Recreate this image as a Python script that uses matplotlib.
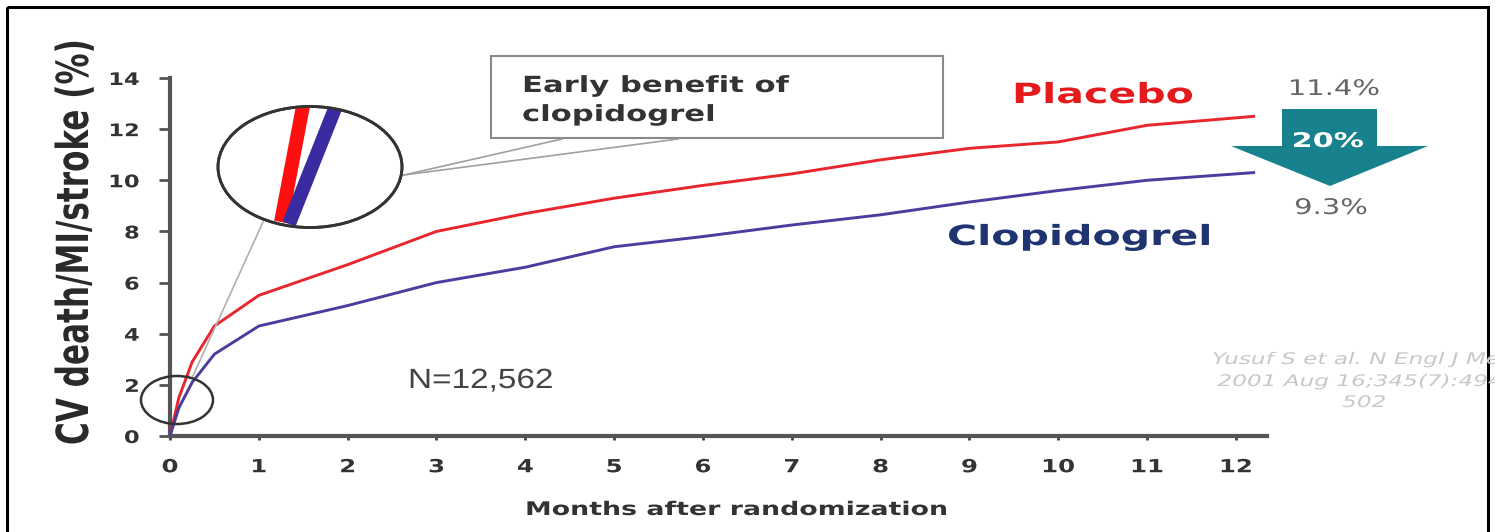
import matplotlib
matplotlib.use("Agg")
import matplotlib.pyplot as plt
from matplotlib.patches import Ellipse, Rectangle, Polygon
from matplotlib.patheffects import AbstractPathEffect
from matplotlib.transforms import Affine2D

# Cumulative incidence of CV death / MI / stroke (%) by month
months = [0, 0.1, 0.25, 0.5, 1, 2, 3, 4, 5, 6, 7, 8, 9, 10, 11, 12.2]
placebo = [0, 1.5, 2.9, 4.3, 5.5, 6.7, 8.0, 8.7, 9.3, 9.8, 10.25, 10.8, 11.25, 11.5, 12.15, 12.5]
clopidogrel = [0, 1.1, 2.1, 3.2, 4.3, 5.1, 6.0, 6.6, 7.4, 7.8, 8.25, 8.65, 9.15, 9.6, 10.0, 10.3]

x_ticks = list(range(0, 13))
x_tick_labels = [str(m) for m in x_ticks]
y_ticks = list(range(0, 15, 2))
y_tick_labels = [str(v) for v in y_ticks]


class Stretch(AbstractPathEffect):
    """Draw text glyphs widened along the baseline (sx) and/or taller (sy)."""

    def __init__(self, sx=1.0, sy=1.0, anchor="left"):
        super().__init__()
        self.sx, self.sy, self.anchor = sx, sy, anchor

    def draw_path(self, renderer, gc, tpath, affine, rgbFace=None):
        ext = tpath.get_extents()
        cx = {"left": 0.0, "center": 0.5 * (ext.x0 + ext.x1), "right": ext.x1}[self.anchor]
        t = Affine2D().translate(-cx, 0).scale(self.sx, self.sy).translate(cx, 0) + affine
        renderer.draw_path(gc, tpath, t, rgbFace)


W, H = 1495, 532
fig = plt.figure(figsize=(W / 100, H / 100), dpi=100)
fig.patch.set_facecolor("white")


def fx(px):
    return px / W


def fy(py):
    return 1 - py / H


# main axes
ax = fig.add_axes([fx(170), fy(436), fx(1267) - fx(170), fy(78) - fy(436)])
ax.set_xlim(0, 12.35)
ax.set_ylim(0, 14)
ax.plot(months, placebo, color="#e8262e", lw=2.1, zorder=3)
ax.plot(months, clopidogrel, color="#4b3c9e", lw=2.1, zorder=3)

for s in ["top", "right"]:
    ax.spines[s].set_visible(False)
for s in ["left", "bottom"]:
    ax.spines[s].set_color("#555555")
    ax.spines[s].set_linewidth(3)
ax.set_xticks(x_ticks)
ax.set_xticklabels(x_tick_labels)
ax.set_yticks(y_ticks)
ax.set_yticklabels(y_tick_labels)
ax.tick_params(axis="y", length=8, width=2, color="#555555", pad=14,
               labelsize=12.5, labelcolor="#333333")
ax.tick_params(axis="x", length=3, width=2, color="#444444", pad=13,
               labelsize=13, labelcolor="#333333")
for lab in ax.get_yticklabels():
    lab.set_fontweight("bold")
    lab.set_path_effects([Stretch(sx=1.3, anchor="right")])
for lab in ax.get_xticklabels():
    lab.set_fontweight("bold")
    lab.set_path_effects([Stretch(sx=1.35, anchor="center")])
ax.set_facecolor("none")

# overlay in pixel coordinates for annotations
ov = fig.add_axes([0, 0, 1, 1])
ov.set_xlim(0, W)
ov.set_ylim(H, 0)
ov.axis("off")
ov.set_facecolor("none")

# outer frame
ov.add_patch(Rectangle((7, 7), 1481, 530, fill=False, ec="black", lw=2.2))

# axis titles
ov.text(88, 242, "CV death/MI/stroke (%)", rotation=90, rotation_mode="anchor",
        ha="center", va="baseline", fontsize=22.4, fontweight="bold", color="#2a2a2a",
        path_effects=[Stretch(sy=1.42)])
ov.text(525, 515, "Months after randomization", ha="left", va="baseline",
        fontsize=13.5, fontweight="bold", color="#333333",
        path_effects=[Stretch(sx=1.43)])

# series labels
ov.text(1012, 103, "Placebo", ha="left", va="baseline", fontsize=20,
        fontweight="bold", color="#e41a1c", path_effects=[Stretch(sx=1.48)])
ov.text(947, 245, "Clopidogrel", ha="left", va="baseline", fontsize=20,
        fontweight="bold", color="#1f3470", path_effects=[Stretch(sx=1.48)])

# relative risk reduction arrow
ov.add_patch(Polygon([(1282, 109), (1377, 109), (1377, 146), (1428, 146),
                      (1330, 186), (1231, 146), (1282, 146)],
                     closed=True, fc="#17818d", ec="none"))
ov.text(1328, 147, "20%", ha="center", va="baseline", fontsize=14.5,
        fontweight="bold", color="white", path_effects=[Stretch(sx=1.5, anchor="center")])
ov.text(1334, 95, "11.4%", ha="center", va="baseline", fontsize=15.5, color="#666666",
        path_effects=[Stretch(sx=1.35, anchor="center")])
ov.text(1331, 214, "9.3%", ha="center", va="baseline", fontsize=15.5, color="#666666",
        path_effects=[Stretch(sx=1.35, anchor="center")])

# sample size
ov.text(408, 388, "N=12,562", ha="left", va="baseline", fontsize=20,
        family="Liberation Sans", color="#444444", path_effects=[Stretch(sx=1.2)])

# citation
cite_kw = dict(ha="center", va="baseline", fontsize=11.5, style="italic",
               color="#c8c8c8", path_effects=[Stretch(sx=1.45, anchor="center")])
ov.text(1364, 364, "Yusuf S et al. N Engl J Med", **cite_kw)
ov.text(1364, 386, "2001 Aug 16;345(7):494-", **cite_kw)
ov.text(1364, 407, "502", **cite_kw)

# callout box
ov.add_patch(Rectangle((491, 56), 452, 82, fc="white", ec="#8a8a8a", lw=1.5, zorder=2))
ov.text(522, 92, "Early benefit of", ha="left", va="baseline", fontsize=16,
        fontweight="bold", color="#333333", zorder=3, path_effects=[Stretch(sx=1.38)])
ov.text(522, 121, "clopidogrel", ha="left", va="baseline", fontsize=16,
        fontweight="bold", color="#333333", zorder=3, path_effects=[Stretch(sx=1.38)])

# connector lines
ov.plot([192, 263], [378, 222], color="#b0b0b0", lw=1.2)
ov.plot([404, 562], [175, 139], color="#a0a0a0", lw=1.2)
ov.plot([404, 678], [175, 139], color="#a0a0a0", lw=1.2)

# magnified view of the early divergence
big = Ellipse((310, 167), 184, 121, fc="white", ec="#333333", lw=2, zorder=4)
ov.add_patch(big)
r, = ov.plot([281, 303], [222, 106], color="#ff1010", lw=10, solid_capstyle="butt", zorder=5)
b, = ov.plot([289, 336], [224, 106], color="#3a2ca0", lw=10, solid_capstyle="butt", zorder=5)
r.set_clip_path(big)
b.set_clip_path(big)
ov.add_patch(Ellipse((310, 167), 184, 121, fill=False, ec="#333333", lw=2, zorder=6))

# small ellipse at the origin
ov.add_patch(Ellipse((177, 400), 72, 48, fill=False, ec="#333333", lw=1.8, zorder=6))

fig.savefig("out.png", dpi=100, facecolor="white")
